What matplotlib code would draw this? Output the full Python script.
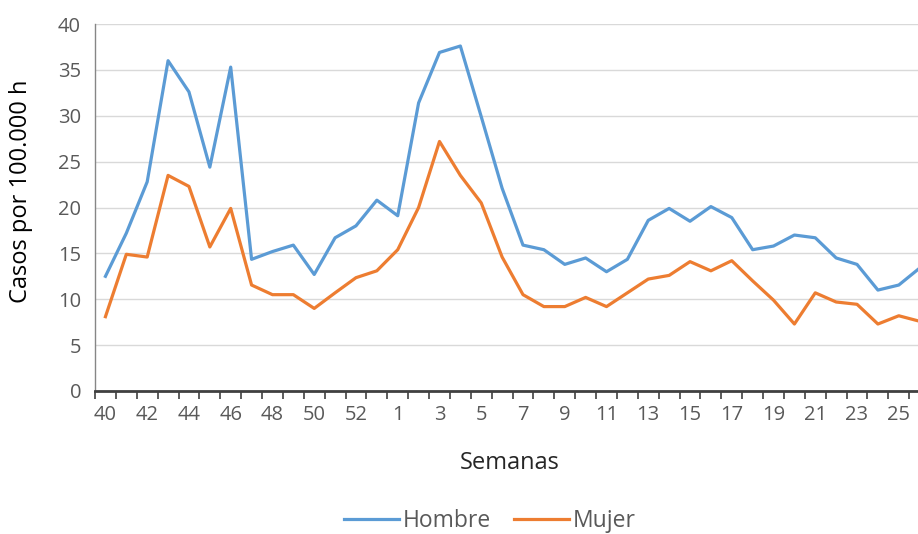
import matplotlib
matplotlib.use("Agg")
import matplotlib.pyplot as plt
from matplotlib.ticker import FixedLocator, NullFormatter

weeks = list(range(40, 54)) + list(range(1, 27))

hombre = [12.5, 17.2, 22.8, 36.0, 32.6, 24.4, 35.3, 14.35, 15.2, 15.9,
          12.7, 16.7, 18.0, 20.8, 19.1, 31.4, 36.9, 37.6, 29.9, 22.1,
          15.9, 15.4, 13.8, 14.5, 13.0, 14.35, 18.6, 19.9, 18.5, 20.1,
          18.9, 15.4, 15.8, 17.0, 16.7, 14.5, 13.8, 11.0, 11.55, 13.4]

mujer = [8.1, 14.9, 14.6, 23.5, 22.3, 15.7, 19.9, 11.55, 10.5, 10.5,
         9.0, 10.7, 12.35, 13.1, 15.4, 20.0, 27.2, 23.5, 20.5, 14.6,
         10.5, 9.2, 9.2, 10.2, 9.2, 10.7, 12.2, 12.6, 14.1, 13.1,
         14.2, 12.0, 9.9, 7.3, 10.7, 9.7, 9.45, 7.3, 8.2, 7.6]

plt.rcParams['font.family'] = ['Open Sans', 'DejaVu Sans']

fig = plt.figure(figsize=(9.18, 5.34), dpi=100)
ax = fig.add_axes([95 / 918, 1 - 391 / 534, 1 - 95 / 918, (391 - 24) / 534])

x = list(range(len(weeks)))
ax.plot(x, hombre, color='#5B9BD5', lw=2.3, label='Hombre')
ax.plot(x, mujer, color='#ED7D31', lw=2.3, label='Mujer')

ax.set_ylim(0, 40)
ax.set_xlim(-0.5, 38.92)
ax.set_yticks(range(0, 41, 5))
ax.grid(axis='y', color='#D9D9D9', lw=1)
ax.set_axisbelow(True)

# tick marks between categories, labels on every second category
ax.xaxis.set_major_locator(FixedLocator([i - 0.5 for i in range(len(weeks) + 1)]))
ax.xaxis.set_major_formatter(NullFormatter())
ax.xaxis.set_minor_locator(FixedLocator(x[::2]))
ax.set_xticklabels([str(w) for w in weeks[::2]], minor=True)
ax.tick_params(axis='x', which='major', length=6, width=1.2, color='#404040', direction='out')
ax.tick_params(axis='x', which='minor', length=0, pad=10, labelsize=14.5, labelcolor='#595959')
ax.tick_params(axis='y', length=0, pad=10, labelsize=14.5, labelcolor='#595959')

for s in ['top', 'right']:
    ax.spines[s].set_visible(False)
ax.spines['left'].set_color('#868686')
ax.spines['left'].set_linewidth(1)
ax.spines['bottom'].set_color('#404040')
ax.spines['bottom'].set_linewidth(2)

fig.text(21 / 918, 1 - 191 / 534, 'Casos por 100.000 h', rotation=90, ha='center', va='center',
         fontsize=17, color='#000000')
fig.text(510 / 918, 1 - 463 / 534, 'Semanas', ha='center', va='center', fontsize=17, color='#262626')

fig.legend(loc='center', bbox_to_anchor=(490 / 918, 1 - 521 / 534), ncol=2, frameon=False,
           fontsize=16.5, labelcolor='#595959', handlelength=2.4, handletextpad=0.15,
           columnspacing=1.0)

fig.savefig('out.png', dpi=100)
